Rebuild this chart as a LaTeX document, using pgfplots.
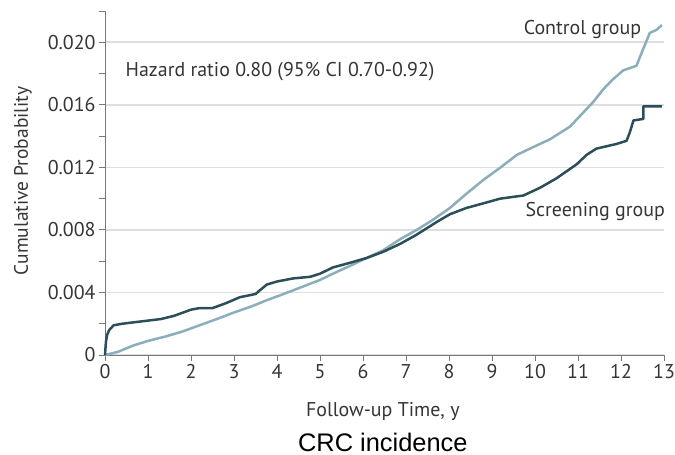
\documentclass[border=0pt]{standalone}
\usepackage{pgfplots}
\pgfplotsset{compat=1.18}
\usepackage{fontspec}
\setmainfont{PT Sans}
\newfontfamily\titlefont{Liberation Sans}
\definecolor{scr}{RGB}{43,78,88}
\definecolor{ctl}{RGB}{138,175,187}
\definecolor{txt}{RGB}{55,52,52}
\definecolor{axc}{RGB}{120,120,120}
\definecolor{grd}{RGB}{222,222,222}
\begin{document}
\begin{tikzpicture}
\begin{axis}[
  scale only axis, width=559bp, height=344bp,
  xmin=0, xmax=13, ymin=0, ymax=0.022,
  axis x line*=bottom, axis y line*=left,
  axis line style={axc, line width=0.9bp},
  scaled y ticks=false, scaled x ticks=false,
  xtick={0,1,2,3,4,5,6,7,8,9,10,11,12,13},
  xticklabels={0,1,2,3,4,5,6,7,8,9,10,11,12,13},
  ytick={0,0.004,0.008,0.012,0.016,0.020},
  yticklabels={0,0.004,0.008,0.012,0.016,0.020},
  minor ytick={0.002,0.006,0.010,0.014,0.018,0.022},
  tick align=outside,
  major tick length=6bp, minor tick length=6bp,
  tick style={axc, line width=0.9bp},
  ymajorgrids, major grid style={grd, line width=1.6bp},
  ticklabel style={font=\fontsize{20}{22}\selectfont, text=txt},
  /pgf/number format/assume math mode=true,
  label style={font=\fontsize{20}{22}\selectfont, text=txt},
  xlabel={Follow-up Time, y},
  ylabel={Cumulative Probability},
  xlabel style={at={(axis description cs:0.497,-0.163)}, anchor=center},
  ylabel style={at={(axis description cs:-0.1467,0.506)}, anchor=center, font=\fontsize{19.5}{22}\selectfont},
  clip=false,
]
\addplot[ctl, line width=2.5bp, line join=round] coordinates {
(0,0) (0.3,0.0002) (0.65,0.0006) (1.0,0.0009) (1.43,0.0012) (1.8,0.0015)
(2.2,0.0019) (2.6,0.0023) (2.98,0.0027) (3.4,0.0031) (3.76,0.0035) (4.15,0.0039)
(4.53,0.0043) (5.0,0.0048) (5.3,0.0052) (5.7,0.0057) (6.08,0.0062) (6.47,0.0067)
(6.86,0.0074) (7.25,0.0080) (7.6,0.0086) (8.02,0.0094) (8.4,0.0103) (8.8,0.0112)
(9.2,0.0120) (9.58,0.0128) (9.96,0.0133) (10.35,0.0138) (10.81,0.0146) (11.12,0.0155)
(11.36,0.0162) (11.59,0.0170) (11.8,0.0176) (12.05,0.0182) (12.36,0.0185) (12.52,0.0196)
(12.67,0.0206) (12.83,0.0208) (12.95,0.0211)
};
\addplot[scr, line width=2.5bp, line join=round] coordinates {
(0,0) (0.02,0.0008) (0.05,0.0013) (0.1,0.0016) (0.2,0.0019) (0.4,0.0020)
(0.7,0.0021) (1.0,0.0022) (1.3,0.0023) (1.6,0.0025) (2.0,0.0029) (2.2,0.0030)
(2.5,0.0030) (2.8,0.0033) (3.14,0.0037) (3.5,0.0039) (3.76,0.0045) (4.0,0.0047)
(4.38,0.0049) (4.77,0.0050) (5.0,0.0052) (5.3,0.0056) (5.7,0.0059) (6.08,0.0062)
(6.47,0.0066) (6.86,0.0071) (7.25,0.0077) (7.71,0.0085) (8.02,0.0090) (8.4,0.0094)
(8.8,0.0097) (9.19,0.0100) (9.73,0.0102) (10.12,0.0107) (10.5,0.0113) (10.97,0.0122)
(11.2,0.0128) (11.43,0.0132) (11.9,0.0135) (12.13,0.0137) (12.2,0.0142) (12.29,0.0150)
(12.52,0.0151) (12.52,0.0159) (12.95,0.0159)
};
\node[anchor=west, text=txt, font=\fontsize{20}{22}\selectfont] at (axis cs:0.4,0.0181) {Hazard ratio 0.80 (95\% CI 0.70-0.92)};
\node[anchor=east, text=txt, font=\fontsize{20}{22}\selectfont] at (axis cs:12.55,0.0208) {Control group};
\node[anchor=west, text=txt, font=\fontsize{20}{22}\selectfont] at (axis cs:9.70,0.0092) {Screening group};
\node[anchor=center, inner sep=0pt, text=black, font=\titlefont\fontsize{25.5}{28}\selectfont] at (axis description cs:0.497,-0.254) {CRC incidence};
\coordinate (o) at (axis cs:0,0);
\end{axis}
\pgfresetboundingbox
\path (o) ++(-105bp,-100bp) rectangle ++(675bp,455bp);
\end{tikzpicture}
\end{document}
